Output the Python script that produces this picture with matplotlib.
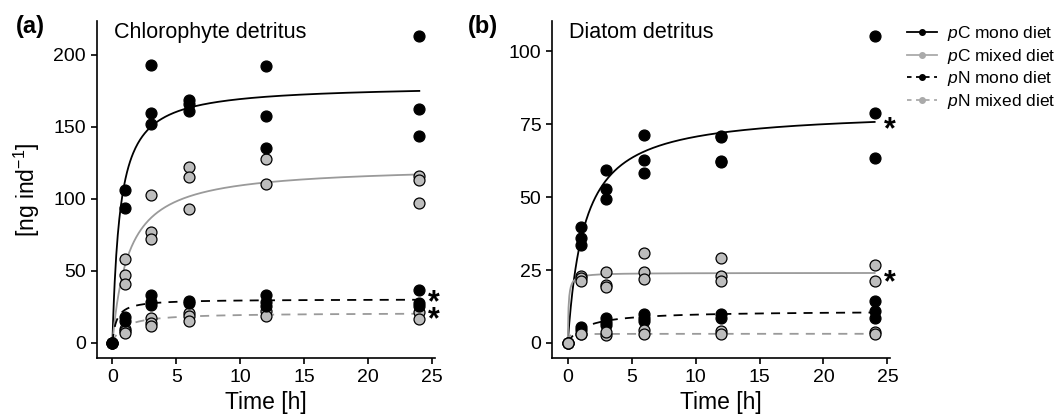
import matplotlib
matplotlib.use("Agg")
import matplotlib.pyplot as plt
from matplotlib.lines import Line2D
import numpy as np

plt.rcParams['font.family'] = ['Liberation Sans', 'DejaVu Sans']
plt.rcParams['mathtext.fontset'] = 'custom'
plt.rcParams['mathtext.rm'] = 'Liberation Sans'
plt.rcParams['mathtext.it'] = 'Liberation Sans:italic'

# sampling times [h]
times = [0, 1, 3, 6, 12, 24]

# (a) Chlorophyte detritus, replicate values per time point [ng ind-1]
chl_pC_mono = [[0], [106, 94], [193, 159.5, 152], [169, 166, 161], [192.6, 157.6, 135.6], [213, 162.5, 143.7]]
chl_pC_mixed = [[0], [58, 47, 41], [103, 77, 72], [122.5, 115, 93], [127.5, 110.6], [116, 113, 97]]
chl_pN_mono = [[0], [18.3, 15.5], [33, 28.7, 26.4], [29, 27.5], [33, 28.7, 26], [37, 28, 25.7]]
chl_pN_mixed = [[0], [10, 8, 6.7], [17.6, 13.7, 11.8], [21, 18.7, 15.3], [22, 18.8], [21.5, 16.5]]

# (b) Diatom detritus
dia_pC_mono = [[0], [39.9, 35.9, 33.6], [59.3, 52.8, 49.3], [71.5, 62.9, 58.2], [71.1, 70.5, 62.5, 62.0], [105.2, 78.9, 63.5]]
dia_pC_mixed = [[0], [23, 22.3, 21.1], [24.5, 20, 19.3], [30.8, 24.5, 21.9], [29.1, 22.8, 21.1], [26.6, 21.1]]
dia_pN_mono = [[0], [5.6, 4.6], [8.4, 7.2, 6.3], [9.9, 8.7, 7.6], [9.9, 8.4], [14.3, 10.8, 8.6]]
dia_pN_mixed = [[0], [3.0, 3.1], [2.8, 3.6], [4.3, 3.0], [4.2, 3.1], [3.8, 3.1]]

# saturation fits y = vmax*t/(k+t), parameters
chl_fit = {'pC_mono': (179.3, 0.585), 'pC_mixed': (123.2, 1.263),
           'pN_mono': (30.4, 0.316), 'pN_mixed': (21.0, 0.843)}
dia_fit = {'pC_mono': (79.9, 1.295), 'pC_mixed': (24.06, 0.06),
           'pN_mono': (11.04, 1.36), 'pN_mixed': (3.15, 0.05)}

# significance stars: y level of the (lowest) star, number of stacked stars
chl_stars = [(22.3, 2)]
dia_stars = [(76.4, 1), (23.9, 1)]

labels = ['$\\it{p}$C mono diet', '$\\it{p}$C mixed diet', '$\\it{p}$N mono diet', '$\\it{p}$N mixed diet']

BLACK = 'black'
GREY_PT = '#bdbdbd'
GREY_LN = '#9a9a9a'
DASH = (0, (5, 4))

styles = {
    'pC_mono': (BLACK, BLACK, '-'),
    'pC_mixed': (GREY_PT, GREY_LN, '-'),
    'pN_mono': (BLACK, BLACK, DASH),
    'pN_mixed': (GREY_PT, GREY_LN, DASH),
}


def flat(series):
    xs, ys = [], []
    for t, vals in zip(times, series):
        xs += [t] * len(vals)
        ys += vals
    return xs, ys


def panel(ax, data, fit, order, ymax, yticks, title, stars):
    tt = np.linspace(0, 24, 400)
    for key in ['pC_mono', 'pC_mixed', 'pN_mono', 'pN_mixed']:
        vmax, k = fit[key]
        ax.plot(tt, vmax * tt / (k + tt), color=styles[key][1], ls=styles[key][2], lw=1.3, zorder=2)
    for key in order:
        xs, ys = flat(data[key])
        ax.scatter(xs, ys, s=62, c=styles[key][0], edgecolors='black', linewidths=0.9, zorder=3)
    fs = 22
    for s, n in stars:
        # asterisk glyph sits ~0.58 em above the baseline, shift so its centre is at s
        ax.annotate('\n'.join(['*'] * n), xy=(24.7, s), xytext=(0, -0.58 * fs), textcoords='offset points',
                    fontsize=fs, fontweight='bold', ha='left', va='baseline', linespacing=0.45,
                    annotation_clip=False)
    ax.set_xlim(-1.2, 25.2)
    ax.set_ylim(-0.05 * ymax, 1.05 * ymax)
    ax.set_xticks([0, 5, 10, 15, 20, 25])
    ax.set_yticks(yticks)
    for side in ['top', 'right']:
        ax.spines[side].set_visible(False)
    for side in ['left', 'bottom']:
        ax.spines[side].set_linewidth(1.2)
    ax.tick_params(length=4, width=1.2, labelsize=14, pad=4)
    ax.set_xlabel('Time [h]', fontsize=16.5, labelpad=3)
    ax.text(0.05, 0.965, title, transform=ax.transAxes, fontsize=15.5, ha='left', va='center')


fig = plt.figure(figsize=(10.56, 4.2), dpi=100)
ax1 = fig.add_axes([0.0919, 0.1469, 0.3197, 0.8033])
ax2 = fig.add_axes([0.5231, 0.1469, 0.3197, 0.8033])

chl = {'pC_mono': chl_pC_mono, 'pC_mixed': chl_pC_mixed, 'pN_mono': chl_pN_mono, 'pN_mixed': chl_pN_mixed}
dia = {'pC_mono': dia_pC_mono, 'pC_mixed': dia_pC_mixed, 'pN_mono': dia_pN_mono, 'pN_mixed': dia_pN_mixed}

panel(ax1, chl, chl_fit, ['pN_mixed', 'pC_mixed', 'pN_mono', 'pC_mono'], 213, [0, 50, 100, 150, 200],
      'Chlorophyte detritus', chl_stars)
panel(ax2, dia, dia_fit, ['pC_mono', 'pN_mono', 'pC_mixed', 'pN_mixed'], 105.2, [0, 25, 50, 75, 100],
      'Diatom detritus', dia_stars)

ax1.set_ylabel('[ng ind$^{-1}$]', fontsize=16.5, labelpad=8)

fig.text(0.015, 0.938, '(a)', fontsize=17, fontweight='bold', va='center')
fig.text(0.443, 0.938, '(b)', fontsize=17, fontweight='bold', va='center')

handles = [
    Line2D([], [], color=BLACK, lw=1.3, marker='o', ms=4),
    Line2D([], [], color='#aaaaaa', lw=1.3, marker='o', ms=4),
    Line2D([], [], color=BLACK, lw=1.3, ls=(0, (2.5, 2.5)), marker='o', ms=4),
    Line2D([], [], color='#aaaaaa', lw=1.3, ls=(0, (2.5, 2.5)), marker='o', ms=4),
]
fig.legend(handles, labels, loc='upper left', bbox_to_anchor=(0.8589, 0.942), frameon=False,
           fontsize=12.5, handlelength=1.75, handletextpad=0.55, labelspacing=0.2,
           borderaxespad=0, borderpad=0)

fig.savefig('out.png', dpi=100)
